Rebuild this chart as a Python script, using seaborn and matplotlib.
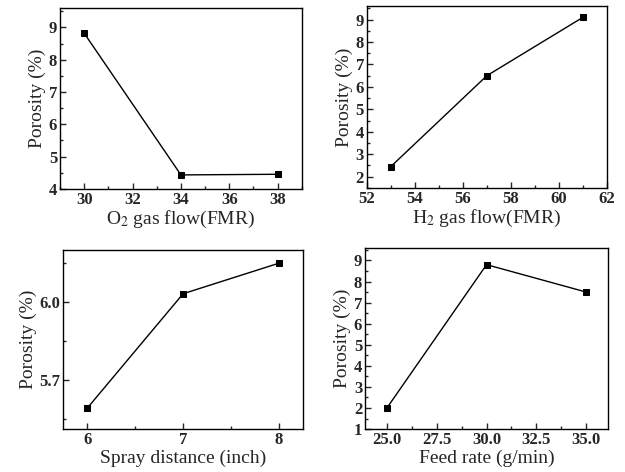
import pandas as pd
import matplotlib.pyplot as plt
import seaborn as sns
from matplotlib.ticker import AutoMinorLocator

# data
o2_flow = [30, 34, 38]
o2_porosity = [8.82, 4.43, 4.45]

h2_flow = [53, 57, 61]
h2_porosity = [2.45, 6.5, 9.1]

spray_distance = [6, 7, 8]
spray_porosity = [5.59, 6.032, 6.15]

feed_rate = [25.0, 30.0, 35.0]
feed_porosity = [2.0, 8.8, 7.5]

sns.set_style('ticks')
plt.rcParams['font.family'] = ['Liberation Serif', 'DejaVu Serif']
plt.rcParams['mathtext.fontset'] = 'stix'

fig = plt.figure(figsize=(6.25, 4.72), dpi=100)

panels = [
    dict(x=o2_flow, y=o2_porosity, xlabel=r'O$_2$ gas flow(FMR)',
         rect=[0.096, 0.600, 0.387, 0.383], xlim=(29, 39), ylim=(4, 9.6),
         xticks=[30, 32, 34, 36, 38], yticks=[4, 5, 6, 7, 8, 9]),
    dict(x=h2_flow, y=h2_porosity, xlabel=r'H$_2$ gas flow(FMR)',
         rect=[0.587, 0.602, 0.384, 0.385], xlim=(52, 62), ylim=(1.5, 9.6),
         xticks=[52, 54, 56, 58, 60, 62], yticks=[2, 3, 4, 5, 6, 7, 8, 9]),
    dict(x=spray_distance, y=spray_porosity, xlabel='Spray distance (inch)',
         rect=[0.101, 0.091, 0.384, 0.379], xlim=(5.75, 8.25), ylim=(5.51, 6.2),
         xticks=[6, 7, 8], yticks=[5.7, 6.0]),
    dict(x=feed_rate, y=feed_porosity, xlabel='Feed rate (g/min)',
         rect=[0.584, 0.091, 0.389, 0.384], xlim=(23.9, 36.1), ylim=(1, 9.6),
         xticks=[25.0, 27.5, 30.0, 32.5, 35.0], yticks=[1, 2, 3, 4, 5, 6, 7, 8, 9]),
]

for i, p in enumerate(panels):
    ax = fig.add_axes(p['rect'])
    df = pd.DataFrame({'x': p['x'], 'y': p['y']})
    sns.lineplot(data=df, x='x', y='y', ax=ax, color='black', linewidth=1.0,
                 marker='s', markersize=5, markeredgecolor='black')
    ax.set_xlim(p['xlim'])
    ax.set_ylim(p['ylim'])
    ax.set_xticks(p['xticks'])
    ax.set_yticks(p['yticks'])
    if i == 2:
        ax.set_yticklabels([f'{v:.1f}' for v in p['yticks']])
        ax.set_xticklabels([str(v) for v in p['xticks']])
    elif i == 3:
        ax.set_xticklabels([f'{v:.1f}' for v in p['xticks']])
    ax.xaxis.set_minor_locator(AutoMinorLocator(2))
    ax.yaxis.set_minor_locator(AutoMinorLocator(2))
    ax.tick_params(which='both', direction='in', top=False, right=False,
                   labelsize=12, width=1.0, pad=2)
    ax.tick_params(which='major', length=4)
    ax.tick_params(which='minor', length=2)
    for lbl in ax.get_xticklabels() + ax.get_yticklabels():
        lbl.set_fontweight('bold')
    for s in ax.spines.values():
        s.set_linewidth(1.0)
        s.set_color('black')
    ax.set_xlabel(p['xlabel'], fontsize=14, labelpad=1)
    ax.set_ylabel('Porosity (%)', fontsize=14, labelpad=2)

fig.savefig('out.png', dpi=100)
